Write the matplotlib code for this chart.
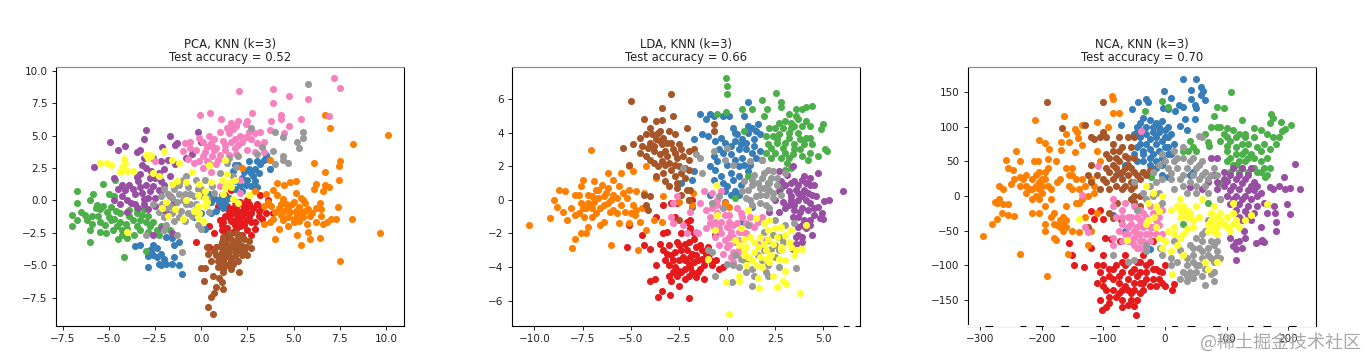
import matplotlib
matplotlib.use("Agg")
import matplotlib.pyplot as plt

# ===========================
# POINTS
# ===========================
pca_red = [(-0.3,-3.2),(0.4,-3.6),(0.7,-2.5),(0.4,-2.0),(1,-1.5),(1.1,-2.3),(1.3,-1.2),(1.5,-0.8),(1.6,-1.6),(1.7,-2.4),(1.9,-0.4),(2.0,-1.2),(2.1,-2.0),(2.3,-0.7),(2.4,-1.5),(2.5,-2.3),(2.6,-0.3),(2.7,-1.0),(2.9,-1.7),(3.0,-0.3),(3.2,0.4),(3.3,-0.5),(3.5,-1.0),(3.6,0),(3.9,-1.0),(1.2,-3),(1.5,-2.8),(2.7,-2.7),(2.5,0.0),(1.8,-0.1),(1.3,0.4),(1.6,0.8),(0.9,-0.4),(1.1,-1.9),(1.8,-1.9),(2.2,-2.7),(3.1,-1.2),(1.4,-0.4),
           (1.2,-1.7),(1.4,-2.1),(1.5,-1.3),(1.7,-1.0),(1.8,-1.5),(2.0,-0.8),(2.1,-1.6),(2.2,-0.3),(2.2,-1.1),(2.4,-0.9),(2.5,-0.5),(2.6,-1.3),(2.7,-1.7),(2.8,-0.6),(1.9,-2.2),(1.4,-2.6),(2.3,-1.9),(2.9,-2.2),(3.3,-1.4),(3.1,-0.8),(2.1,-0.1),(1.7,-0.6)]
pca_blue = [(-3.6,-3.5),(-3.3,-3.4),(-2.6,-3.4),(-2.8,-3.8),(-2.4,-3.7),(-2.9,-4.3),(-2.6,-4.2),(-2.2,-4.1),(-2.0,-4.5),(-2.3,-4.9),(-2.9,-5.1),(-2.2,-5),(-1.9,-4.9),(-1.6,-4.9),(-1.5,-3.4),(-1.9,-2.8),(-1.6,-2.9),(-1.2,-3.2),(-1.5,-4.4),(-1.2,-5.0),(-1.05,-5.7),(1.8,2.7),(2.6,3),(3.5,3.5),(3.6,3.2),(2.9,2.4),(3.2,2.8),(2.7,2.1),(2.5,1.6),(2.4,1.2),(2.9,1.5),(3.0,1.0),(2.1,1.2),(1.8,0.9),(2.2,0.7),(1.5,0.2),(1.1,0.4),(0.9,0.0),(0.5,-0.1),(0.4,0.5),(1.3,-0.2),(1.2,-0.6),(0.8,-0.8),(0.5,-1),(2.0,2.7),(1.7,2.3),(3.7,2.4),(0,-1.0),(-0.4,-1.3),(0.2,-2.2),
            (2.2,1.7),(2.6,2.4),(2.3,2.2),(2.8,1.9),(3.1,2.1),(2.7,1.1),(1.9,1.5),(1.0,-0.3),(1.1,0.1),(0.7,0.2),(-2.7,-3.9),(-2.4,-4.4),(3.4,3.1),(3.0,3.0)]
pca_green = [(-7.0,-2.0),(-6.97,-1.1),(-6.7,0.7),(-6.7,-0.2),(-6.7,-1.5),(-6.5,-0.9),(-6.0,-3.2),(-6.0,-2.3),(-5.85,0.5),(-6,0),(-5.65,-0.35),(-5.5,-1.7),(-5.5,-2.4),(-5.15,-2.5),(-5.3,1.25),(-5,0.5),(-5,-1.25),(-4.65,1.6),(-4.9,-0.5),(-4.55,-2),(-4.5,-3),(-4.2,-4.4),(-4.3,-2.3),(-4.4,-1),(-4.05,-1.8),(-3.5,-1),(-3.9,-0.75),(-3.3,-1.5),(-2.8,-2),(-2.4,-2.3),(-3.65,-2.7),(-3,-3.9),(-2.2,-2),(-1.7,-2.3),(-6.2,-1.5),(-5.9,-1.8),(-5.5,-0.7),(-5.1,-0.9),(-4.7,0.3),(-4.7,-1.4),(-3.1,-0.7),(-3.5,-2),(-2.9,-1.2),(-4,-2.9),
             (-6.3,-1.1),(-5.9,-1.2),(-5.7,-0.6),(-5.3,-0.4),(-5.6,-1.2),(-4.9,-1.5),(-4.6,-0.8),(-4.4,-1.7),(-4.3,-2.7),(-4.0,-2.2),(-3.7,-1.5),(-3.2,-1.1),(-3.0,-1.7),(-2.6,-1.7),(-3.3,-2.3),(-2.9,-2.4),(-4.8,-2.3),(-3.9,-1.2),(-3.5,-0.7),(-5.2,-1.9),(-2.3,-2.7)]
pca_purple = [(-4.96,4.5),(-5.8,2.55),(-4.5,3.9),(-4.1,4.2),(-3.0,5.4),(-3.1,4.7),(-1.7,5.0),(-1.4,4.25),(-2.1,4.1),(-3.5,3.75),(-3.3,3.9),(-0.2,5.3),(0,4.5),(-0.85,3.3),(-0.5,3.6),(-1.3,4.4),(-4.7,1.7),(-4.5,0.9),(-4.3,0.3),(-4.4,-0.3),(-3.9,1.2),(-3.6,0.5),(-3.8,-0.2),(-3.3,1),(-3.1,0.1),(-3.3,2),(-3.0,2.5),(-2.8,1.7),(-2.6,1.1),(-2.5,0.2),(-3.4,-0.6),(-2.9,-0.7),(-2.3,2.1),(-2.2,3),(-2.6,3.3),(-1.8,3.1),(-3.1,3.3),(-2,1.2),(-1.7,0.3),(-1.4,2.8),(-1.5,-0.1),(-2.1,-2.1),(-2.6,-2.7),(-1.6,-2.5),(-1.9,-0.9),(-4.0,-0.9),(-4.7,0.0),(-3.4,1.5),(-2.2,0.7),
              (-4.1,0.8),(-4,0),(-3.5,1.8),(-3.7,0.9),(-3.2,0.6),(-3,1.2),(-3.1,-0.3),(-2.8,0.7),(-2.7,2.3),(-2.9,0.2),(-2.5,1.7),(-2.3,0.8),(-2.5,-0.4),(-2.0,2.4),(-2.2,1.5),(-3.2,2.7),(-4.3,1.2),(-3.6,-0.3),(-1.7,1.9)]
pca_orange = [(10.1,5.05),(8.2,4.35),(6.95,5.55),(6.7,6.55),(9.65,-2.55),(7.5,-4.65),(8.15,-1.4),(6.08,2.9),(7.5,3.0),(7.44,2.65),(6.7,2.2),(7.44,1.6),(6.7,1.2),(6.2,1.3),(6.9,1.0),(6.1,0.9),(6.6,0.7),(5.1,1.5),(4.8,1.4),(4.5,1.2),(4.1,1.35),(3.9,0.8),(4.1,0.4),(4.4,0.1),(3.4,-0.4),(3.8,-0.4),(4.2,-0.6),(4.6,-0.3),(5,-0.1),(5.3,-0.5),(5.6,-0.8),(4.8,-0.9),(5,-1.4),(4.4,-1.5),(4.7,-2),(4.2,-2.2),(3.7,-1.7),(3.4,-1.8),(5.3,-1.6),(5.9,-1.2),(6.2,-1.7),(6.6,-1.8),(7,-1.4),(7.3,-1.4),(6.5,-1.2),(5.7,-1.8),(5.8,-2.4),(5.2,-2.7),(5.9,-3.0),(6.4,-2.9),(5.4,-3.4),(4.0,-3.0),(7.4,-0.5),(6.4,-0.2),(6.5,-0.7),(5.4,0.2),(5.1,0.6),(5.5,0),(3.7,3.1),(2.2,2.5),(2.9,0.7),
              (3.6,-0.1),(4.0,-0.9),(4.3,-0.3),(4.5,-0.8),(4.7,-0.6),(4.9,-0.3),(5.1,-0.8),(5.2,-1.1),(5.4,-0.9),(5.6,-0.2),(5.8,-0.7),(6.0,-1.0),(4.3,-1.1),(3.9,-1.4),(4.7,-1.3),(5.5,-1.3),(6.2,-0.6),(6.8,-1.7),(3.5,0.5),(5.0,-1.7)]
pca_yellow = [(-5.5,2.9),(-5.1,2.9),(-4.9,2.7),(-4.2,3.2),(-4.1,2.9),(-4.3,2.6),(-4.4,2.2),(-4,2.3),(-3.7,2.3),(-3.0,3.5),(-2.7,3.4),(-2.9,3.3),(-2.0,3.8),(-1.6,3.1),(-1.2,2.9),(-2.6,2.1),(-2.3,1.9),(-1.3,1.5),(-1.6,1.3),(-0.8,1.4),(-1.9,-0.1),(-2.1,-0.6),(-1.4,-0.7),(-1.8,-1.2),(-1.0,-1.4),(-0.2,0.4),(-0.1,1.3),(0.2,0.7),(-0.4,-0.8),(-0.1,-1),(0.2,-0.4),(0.1,-1.6),(0.5,1.4),(1.1,1.6),(1.3,1.0),(1.2,0.5),(1.7,0.1),(2,-0.2),(2.6,0.4),(-0.5,2.2),(0.4,2.7),(-0.8,0),(-4.0,-2.4),(1.4,2.0),(1.3,3.1),
              (-4.2,2.4),(-0.2,-0.4),(0.3,-0.1),(0.2,0.2),(-0.2,-1.3),(1.5,1.4),(1.8,1.6),(1.6,1.0),(-2.8,3.5)]
pca_brown = [(0.3,-3.6),(0.2,-5.2),(0,-5.2),(0.35,-4.1),(0.5,-4.7),(0.38,-8.25),(0.63,-8.74),(0.52,-7.43),(0.67,-7.17),(0.8,-6.7),(0.13,-6.2),(0.63,-5.83),(0.94,-6.0),(1.12,-6.3),(1.2,-6.86),(2.02,-5.5),(1.2,-5.5),(2.56,-3.1),(1,-3.5),(1.3,-3.2),(1.6,-3),(2,-3.2),(0.8,-4.2),(1.1,-4.0),(1.4,-3.8),(1.8,-3.7),(2.1,-3.8),(2.4,-3.6),(0.9,-4.7),(1.2,-4.6),(1.5,-4.4),(1.8,-4.3),(2.2,-4.2),(2.5,-4.2),(1.0,-5),(1.4,-5),(1.7,-4.9),(1.5,-2.5),(1.9,-2.5),(2.1,-2.7),(1.2,-5.3),(1.2,-2.8),
             (0.8,-3.6),(1.0,-4.2),(1.2,-3.7),(1.3,-4.3),(1.4,-3.4),(1.5,-4.0),(1.6,-3.6),(1.6,-4.7),(1.7,-3.2),(1.9,-4.0),(1.9,-3.4),(2.0,-4.7),(2.2,-3.5),(2.3,-3.9),(1.1,-3.2),(0.9,-5.1),(1.3,-4.9),(1.6,-5.3),(2.3,-3.0),(2.7,-3.7),(2.0,-2.9),(0.7,-3.9)]
pca_pink = [(2.02,8.4),(3.86,8.56),(4.73,8.05),(3.9,7.5),(5.78,7.8),(7.17,9.43),(7.5,8.7),(6.9,6.5),(0.49,6.76),(-0.05,6.55),(1.08,6.3),(2.73,6.76),(2.5,6.15),(3.77,6.15),(4.3,6.6),(4.3,6.3),(5.4,6.3),(4.77,5.7),(4.5,5.2),(3.74,5.4),(1.6,6.0),(2,6.1),(1.7,5.5),(2.1,5.0),(1.5,5.2),(1.8,4.7),(2.2,4.5),(2.6,5.3),(2.9,5.2),(2.7,4.7),(3.2,5.3),(3.4,4.5),(2.5,3.9),(2.9,3.7),(3.4,3.7),(1,5.3),(0.7,4.7),(1.2,4.6),(0.4,5.0),(-0.1,4.8),(-0.6,4.5),(-0.9,4.4),(-1.0,3.8),(-0.3,3.9),(0.3,4.1),(0.8,4.0),(1.3,3.9),(1.8,4.0),(0.1,3.4),(0.6,3.4),(1.0,3.5),(0.4,2.9),(0.8,2.8),(-0.4,2.9),(-0.1,3.0),(0.5,2.2),(-2.5,3.0),(1.9,3.6),(1.0,1.1),(2.1,1.6),(2.1,0.6),
            (0.1,4.5),(0.5,4.4),(0.7,3.9),(0.2,3.7),(0.9,3.1),(0.1,2.5),(0.3,3.0),(1.3,4.3),(1.6,4.5),(2.0,4.3),(1.4,5.6),(1.9,5.7),(2.4,4.9),(-0.6,4.0),(0.6,4.2),(2.4,5.9),(-0.7,3.2),(1.5,3.5),(3.0,4.4)]
pca_gray = [(5.8,9.0),(5.5,5.3),(5.5,4.8),(5.2,4.5),(5.3,4.0),(4.4,4.9),(4.0,5.3),(2.7,5.6),(3.9,3.8),(4.4,3.4),(4.4,3.1),(4.7,2.9),(4,2.8),(3.3,4.1),(3.0,3.6),(2.0,3.4),(1.5,3.3),(1.4,2.9),(1.9,2.6),(-1.06,-4.0),(-3,-2.7),(-1.3,-2.7),(0,-2.2),(-0.2,-1.9),(-2.6,-0.3),(-2.2,0.3),(-2.3,-0.9),(-1.8,0.5),(-1.7,-0.4),(-1.5,0.9),(-1.2,1.2),(-1.3,-0.1),(-1.1,-0.8),(-0.9,0.5),(-0.7,1.0),(-0.6,-0.3),(-0.5,-1.2),(-0.4,0.3),(-0.9,-1.6),(-1.5,-1.6),(-1.9,-1.9),(-0.8,1.9),(-0.3,1.6),(0.0,0.9),(0.3,0.2),(0.6,1.1),(1.0,2.1),(1.7,1.9),(0.4,-0.9),(-2,-2.3),
            (-2.1,-0.3),(-2.0,0.9),(-1.6,0.2),(-1.9,-0.6),(-1.2,0.5),(-1.0,0.0),(-0.8,-0.3),(-0.7,-1),(-0.3,-0.3),(-0.2,0.9),(0.1,0.3),(-1.2,-1.3),(-1.6,-1),(-2.0,-1.3),(-0.6,0.5),(0.2,1.6),(0.7,0.6),(-1.0,1.6),(-0.4,-0.8)]

lda_red = [(-3.6,-5.8),(-3.35,-5.4),(-2.95,-5.65),(-2.5,-5.1),(-1.95,-5.85),(-4,-4.85),(-3.75,-4.7),(-3.7,-3.9),(-3,-4.5),(-2.9,-4.8),(-2.5,-4.2),(-2.5,-3.6),(-3.1,-3.2),(-3,-2.7),(-3.1,-1.9),(-3.3,-2),(-3.7,-1.0),(-2.6,-0.2),(-2.9,-0.2),(-5.2,-2.8),(-4.4,-2.1),(-4.3,-2.7),(-4,-2.9),(-3.3,-0.3),(-2.7,-1),(-2.1,-1.3),(-1.9,-1.7),(-2.4,-2),(-1.7,-2.3),(-2.8,-3.6),(-2.4,-3),(-2,-2.5),(-1.6,-2.8),(-2.7,-4),(-2.2,-3.6),(-1.8,-3.2),(-1.3,-3.0),(-2.4,-4.3),(-1.9,-4),(-1.5,-3.6),(-1.1,-3.2),(-2,-4.5),(-1.6,-4.6),(-1.4,-4.1),(-1.2,-4.7),(-0.9,-3.6),(-0.8,-3.9),(-0.4,-4.1),(-0.2,-4),(-0.55,-3.6),(-1,-2.8),(-0.6,-2.1),(-2,0),(-1.8,0),(-5.1,-1.5),(-0.95,-3.2),(-2.6,-2.5),
           (-3.2,-3.6),(-3,-3.9),(-2.9,-3.3),(-2.7,-3.1),(-2.6,-4.5),(-2.5,-2.7),(-2.3,-3.4),(-2.2,-4.1),(-2.2,-2.6),(-2.1,-3.0),(-2,-3.8),(-1.9,-3.4),(-1.8,-4.3),(-1.7,-3.7),(-1.6,-3.3),(-1.5,-4.3),(-1.4,-2.7),(-1.3,-3.5),(-1.2,-3.9),(-1.7,-2.0),(-2.2,-4.7),(-2.8,-4.3),(-3.3,-3.0),(-3.5,-2.6),(-1.9,-1.2)]
lda_blue = [(-1.4,5.1),(-1.1,4.8),(-0.9,5.1),(-0.7,5),(0.1,5),(1.1,5.8),(0.9,5.0),(-0.2,5.0),(-1.7,3.6),(-1.3,3.9),(-1,3.8),(-0.6,3.5),(-0.4,3),(-0.1,3.4),(0.3,4.3),(0.5,3.9),(0.8,3.6),(1.1,4.0),(1.3,4.3),(1.6,4.5),(1.4,3.6),(0.2,2.7),(0.6,3.0),(1,3),(-0.5,2.3),(-0.9,2.0),(-0.7,2.6),(1.3,2.8),(1.7,2.9),(0,2.1),(0.6,2),(1.2,2.1),(1.8,2.4),(-1.7,1.7),(-1.8,1.2),(-0.7,1.2),(-0.3,1.4),(0,0.8),(0.3,1.2),(0.4,0.5),(0.6,1.4),(-2.4,1.0),(-1.8,-0.4),(-0.1,-0.1),(1.3,-0.4),(0.7,-1.4),(-0.9,0.3),(0.7,0.9),(-0.1,0.5),
            (0.2,3.2),(0.4,2.4),(0.4,3.5),(0.7,3.3),(0.8,2.5),(1,3.4),(1.1,1.7),(0.2,1.6),(0.9,2.1),(1.4,3.2),(1.5,2.5),(-0.2,2.8),(-0.6,1.8),(-0.2,1.0),(0.2,0.3),(0.6,0.3),(-0.3,3.7),(1.1,4.4),(1.5,4.1),(1.7,3.9),(0.4,4.0)]
lda_green = [(-0.05,7.25),(0,6.75),(0,6.3),(-0.05,5.2),(-0.5,5.1),(0.8,5.4),(1.3,5.4),(1.8,5.95),(2.55,6.35),(2.8,5.8),(2.8,5.5),(2.05,5.4),(1.9,5.0),(3.2,5.1),(3.6,5.4),(3.9,5.4),(4.1,5.5),(4.4,5.6),(2.7,4.6),(3,4.7),(3.3,4.6),(3.7,4.8),(4.1,4.7),(4.3,4.4),(5,4.5),(4.9,4.2),(2.2,4.3),(2.5,4.3),(2,3.8),(2.7,3.9),(3.2,4),(3.7,4),(4.3,3.7),(2.1,3.3),(2.6,3.4),(3,3.4),(3.5,3.3),(4,3.3),(4.4,3.3),(2,2.8),(2.5,2.8),(3,2.8),(3.4,2.7),(3.9,2.6),(4.3,2.8),(4.7,2.6),(5.1,3),(5.2,2.9),(3.1,2.2),(3.3,1.9),(3,1.8),(1.1,1.4),(2.1,1.0),(2.8,0.7),(0.9,4.1),(0.4,0.1),
             (2.6,3.6),(2.9,3.1),(3.2,3.7),(3.3,4.3),(3.5,3.0),(3.5,4.4),(3.8,3.6),(3.9,4.4),(3.8,3),(4.1,3.7),(4.2,2.4),(2.3,3.1),(2.4,3.8),(2.8,2.5),(2.9,4.3),(3.6,5.0),(3.2,2.5),(2.3,2.5)]
lda_purple = [(6,0.5),(5.3,0),(5.05,-0.05),(4.7,-0.4),(4.95,-0.8),(4.85,-1.1),(5,-1.15),(4.5,-0.9),(4.7,1.6),(4.0,1.4),(4.3,1.3),(3.4,2.0),(3.1,1.5),(2.7,1.7),(2.8,1.1),(2.7,0.5),(3.3,1.0),(3.7,0.9),(4.1,1.0),(4.5,0.9),(3.2,0.5),(3.6,0.6),(4.0,0.6),(4.4,0.3),(2.9,-0.1),(3.3,0),(3.7,0),(4.1,0),(3,-0.5),(3.5,-0.6),(3.9,-0.5),(4.2,-0.6),(2.7,-0.7),(2.2,-0.7),(3.7,-1),(4,-1.2),(4.3,-1.2),(4.3,-1.5),(3.7,-1.6),(4.1,-1.7),(3.6,-2.2),(3.9,-2.2),(3.6,-2.6),(3.4,-2.9),(3.9,-2.5),(3.7,-2.1),(4.4,-2.1),
              (3,0.9),(3.3,0.2),(3.5,1.1),(3.5,-0.3),(3.7,0.4),(3.8,-0.7),(3.9,1.2),(3.9,0.2),(4.2,0.4),(4.3,0.9),(4.3,-0.2),(4.6,0.2),(4.5,-0.5),(3.2,-0.3),(2.5,0.0),(3.4,-1),(3.9,-1.5)]
lda_orange = [(-10.3,-1.5),(-9.2,-1.1),(-9,0),(-8.8,-0.4),(-8.7,0.6),(-8.4,0.55),(-8.5,-0.7),(-8.3,-1.2),(-8.05,-2.85),(-7.9,-2.35),(-7.6,-2),(-7.3,-2),(-7.05,2.95),(-8.1,-0.5),(-7.9,0.3),(-7.7,-0.8),(-7.6,-0.2),(-7.5,1.2),(-7.6,0.8),(-7.3,-0.5),(-7.2,0.3),(-7,-1.0),(-6.9,-0.1),(-6.9,1.1),(-6.7,0.6),(-6.6,-1.5),(-6.4,-1.3),(-6.6,-0.5),(-6.4,0.2),(-6.2,0.7),(-6.2,-0.2),(-6.2,1.6),(-6,-2.7),(-5.9,1.2),(-5.9,0.3),(-5.9,-0.6),(-5.6,-1.4),(-5.6,0.8),(-5.5,-0.3),(-5.5,1.6),(-5.1,-1.4),(-5.2,0.1),(-5,-0.8),(-4.9,1.7),(-4.7,0.5),(-4.8,-0.9),(-5.1,2.0),(-4.5,-1.3),(-4.4,-0.5),(-4.3,0.4),(-4.6,-3),(-4.2,-1.8),(-3.8,-1.2),(-3.4,-1.3),(-3.3,0.2),(-2.5,-0.1),(-1.75,0.4),(-1.8,-0.3),(-4.2,2.0),(-3.7,1.3),(-0.1,-0.2),(0.1,-0.4),
              (-7.9,-0.9),(-7.7,0.3),(-7.5,-0.5),(-7.4,-1.0),(-7.2,-0.2),(-7,0.2),(-7,-0.5),(-6.8,-0.8),(-6.7,0.1),(-6.5,0.9),(-6.4,-0.3),(-6.3,0.4),(-6.1,-0.7),(-6,0),(-5.7,0.1),(-5.7,-0.8),(-5.4,0.4),(-5.3,-0.7),(-5.1,0.6),(-4.9,-0.3),(-4.7,-0.6),(-7.2,-1.6),(-6.8,0.6)]
lda_yellow = [(0.1,-6.8),(3.8,-5.55),(3.05,-5),(2.9,-4.8),(2.6,-5.2),(1.65,-5.25),(1.6,-4.65),(0.6,-4.5),(0.6,-4.8),(-0.05,-4.9),(2.4,-4.5),(3,-4.2),(1,-3.9),(1.3,-3.6),(1.7,-3.4),(2,-3.5),(2.3,-3.3),(2.7,-3.5),(3.0,-3.6),(3.5,-3.3),(3.6,-3),(3.9,-2.9),(0.6,-2.7),(0.9,-2.3),(0.7,-1.7),(1,-2.8),(1.4,-2.5),(1.7,-2.2),(2.1,-2.3),(2.5,-1.7),(2.8,-1.6),(3,-2.1),(3.2,-2.5),(3.3,-1.8),(2.2,-1.2),(1.9,-1.4),(1.1,-0.6),(1.5,-1.1),(-0.6,-1.8),(-1,-3.5),(-0.5,-0.9),(4.1,-1.5),(0.9,-3.3),(0.4,-2.4),(-0.55,0.9),(2,-3),
              (1.4,-3.1),(1.6,-2.8),(1.1,-3.4),(1.2,-2.2),(0.9,-3.0),(2.4,-2.6),(2.6,-2.2),(2.8,-3.0),(2.2,-3.7),(1.5,-3.9),(1.9,-2.6),(2.8,-2.8),(3.3,-2.8),(1.8,-4),(2.1,-1.8)]
lda_brown = [(-5,5.9),(-2.9,6.3),(-3.4,5.45),(-4.3,4.8),(-3.7,4.7),(-3.4,4.75),(-2.8,5),(-2.1,4.25),(-0.7,4.5),(-0.7,4.1),(-4.5,3.7),(-5.4,3.1),(-4.9,3.3),(-4.5,2.8),(-5.1,2.1),(-4.2,3.9),(-4,4.3),(-3.5,4.1),(-3,4.1),(-2.7,3.9),(-4,3.4),(-3.7,3.6),(-3.4,3.3),(-2.9,3.4),(-2.5,3.3),(-4.2,2.6),(-3.8,2.9),(-3.5,2.7),(-3.1,2.6),(-2.7,2.8),(-2.3,2.6),(-2,2.9),(-1.7,3),(-3.6,2),(-3.2,2.1),(-2.9,1.8),(-2.5,2),(-2.2,1.9),(-3.7,1.4),(-3.2,1.1),(-2.7,1.4),(-2.2,1.3),(-2,1.8),(-3,0.8),(-2.6,0.7),(-2.4,0.3),(-2.1,0.6),(-2,0.0),(-1.9,0.6),(-4,0.2),(-4.2,-0.3),(-4.3,0.3),(-2.5,-1.2),(-4.1,-0.6),
             (-4.1,3.1),(-3.9,3.9),(-3.8,3.2),(-3.6,4),(-3.5,3.5),(-3.3,3.7),(-3.2,2.9),(-3.1,3.4),(-2.8,3),(-2.6,2.5),(-2.4,3.0),(-3.4,2.3),(-3,2.2),(-2.7,2.1),(-4.4,3.2),(-4,2.4),(-3.3,1.6),(-2.4,1.6),(-2,2.4),(-2.6,1.0),(-3.8,2.2)]
lda_pink = [(-2.6,0.2),(-2.8,-0.2),(-2.9,-1),(-2.8,-1.4),(-1.9,-0.7),(-1.6,-1.9),(-2.3,-1.5),(-2.1,-2),(-1.5,-2),(-1.2,0.5),(-1.4,-0.2),(-1.1,-0.6),(-0.8,0.4),(-0.5,0.0),(-0.3,0.5),(-0.9,-1),(-1.1,-1.7),(-0.7,-1.6),(-0.5,-0.8),(-0.3,-1.3),(-0.6,-2.2),(-0.3,-2),(0.1,-0.9),(0.3,-1.5),(0.5,-0.5),(0.8,-1),(0.1,-2.2),(0.4,-2.5),(0,-2.8),(0.3,-3.1),(0.3,-3.7),(0.6,-3.0),(0.8,-1.9),(1,-2),(1.4,-1.6),(1.8,-1),(1.2,-1),(-0.4,-2.7),(-0.2,-3.2),(2,-2.4),(1.6,-2.6),(0.5,-3.2),
            (-0.5,-0.3),(-0.6,-1.3),(-0.4,-1.7),(-0.1,-0.9),(0,-1.6),(0.1,-1.3),(0.2,-1.9),(0.3,-2.2),(0.1,-2.7),(0.2,-3.4),(0.5,-1.4),(0.6,-1.9),(0.7,-0.8),(0.6,-2.4),(-0.8,-0.5),(-0.9,-1.4),(-0.1,-2.4),(1.2,-1.5),(1.6,-1.3),(1.0,-1.4)]
lda_gray = [(-1.6,2.7),(-1.4,2.5),(-0.7,2.9),(-2.3,1.9),(-1.3,1.6),(0,3.1),(-0.1,2.4),(0.3,2.1),(1.2,2.3),(1.8,2.4),(2.1,1.8),(2.4,1.7),(3,1.6),(0.9,1.1),(1.4,1.5),(1.8,1.3),(0.8,0.5),(1.3,0.9),(1.7,0.7),(2.2,1),(2.6,0.9),(1,0.1),(1.5,0.2),(2,0.3),(2.4,0.4),(2.8,0.3),(1.3,-0.3),(2,-0.3),(-0.8,-0.2),(-0.4,0.2),(-0.2,-0.5),(1.1,-1.5),(2.5,-1.2),(3,-1.5),(3.5,-1.4),(1.9,-1.9),(2.4,-2.1),(2.9,-2.5),(2.3,-2.9),(1.9,-3),(1.2,-3.5),(1.8,-3.6),(2.5,-3.4),(0.4,-3.3),(0.9,-3.6),(0.3,-3.9),(0.6,-4),(1.3,-4.1),(2.7,-4.0),(3.6,-4.05),(2,-4.3),(2.1,-4.5),(1.4,-4.5),(1.3,-5.1),(0.25,-4.9),(-0.65,-4.5),(0,-3.8),(-0.8,-3.1),(-1,-3.0),
            (1.1,0.6),(1.3,1.2),(1.6,1.0),(1.7,0.3),(1.9,1.6),(1.9,0.7),(2.2,0.6),(2.3,1.3),(2.4,0.1),(2.6,1.3),(1.2,0),(1.7,-0.2),(2.2,-0.5),(2.7,-3.0),(2.5,-2.7),(2.1,-2.4),(2.7,-2.2),(1.6,-3.3),(2.1,-3.9),(1.0,-4.3),(0.7,-3.5)]

nca_red = [(-102,-165),(-95,-160),(-90,-155),(-47,-171),(-70,-160),(-60,-157),(-50,-158),(-110,-125),(-110,-100),(-105,-110),(-100,-100),(-90,-105),(-100,-120),(-95,-135),(-85,-120),(-80,-100),(-85,-135),(-70,-110),(-75,-125),(-70,-150),(-60,-95),(-55,-110),(-65,-130),(-55,-140),(-40,-140),(-50,-125),(-40,-110),(-35,-125),(-45,-95),(-25,-95),(-30,-110),(-25,-130),(-20,-120),(-15,-105),(-10,-120),(-5,-110),(0,-100),(-5,-125),(0,-130),(12,-135),(15,-127),(-105,-150),(-80,-145),(-35,-85),(-65,-85),(-155,-68),(-147,-100),(-132,-103),(-120,-75),(-150,-85),(-105,-20),(-100,-33),(-98,-60),(-88,-62),(-73,-65),(-100,-85),(-120,-22),(-115,-33),(-20,-65),
           (-100,-130),(-90,-115),(-85,-105),(-75,-115),(-70,-135),(-65,-100),(-60,-120),(-60,-135),(-50,-105),(-50,-135),(-45,-115),(-40,-125),(-35,-135),(-30,-100),(-30,-120),(-20,-105),(-15,-130),(-55,-150),(-70,-95),(-90,-145),(-45,-150),(-40,-95),(-10,-108),(-75,-140)]
nca_blue = [(29,168),(51,169),(43,153),(59,157),(62,151),(-2,152),(10,141),(42,140),(59,145),(65,139),(-43,136),(-31,140),(-28,136),(-53,125),(22,131),(30,128),(49,131),(51,127),(-3,127),(5,126),(17,122),(32,111),(49,111),(-71,102),(24,101),(35,95),(-45,100),(-50,90),(-40,105),(-35,112),(-25,110),(-15,105),(-5,108),(5,100),(10,90),(-40,85),(-30,90),(-20,92),(-10,92),(0,85),(-45,70),(-30,75),(-15,75),(0,70),(15,75),(-50,60),(-35,60),(-20,60),(-5,55),(10,60),(-45,50),(-25,45),(-15,40),(-20,35),(-5,30),(5,28),(40,30),(45,35),(-65,45),(-65,-51),(-25,-76),(-73,33),(-85,-28),
            (-40,95),(-30,100),(-25,82),(-15,85),(-5,80),(5,85),(-35,65),(-25,55),(-10,65),(5,60),(-40,75),(-20,100),(-10,100),(0,95),(-15,50),(-35,50),(-5,45),(5,70),(-25,68),(-45,92)]
nca_green = [(107,150),(-5,137),(5,128),(-33,122),(85,128),(95,127),(80,115),(125,110),(175,113),(172,118),(170,105),(188,107),(205,103),(195,97),(190,93),(75,100),(85,100),(90,100),(100,98),(110,95),(120,90),(130,90),(145,98),(155,95),(165,90),(175,85),(65,90),(90,80),(105,80),(125,75),(145,85),(160,75),(180,75),(70,78),(40,80),(45,70),(72,72),(100,65),(115,60),(130,65),(150,70),(170,68),(100,50),(115,45),(130,50),(145,55),(155,50),(160,40),(105,35),(120,35),(135,35),(150,35),(165,30),(163,27),(30,65),(37,65),(50,65),(-20,35),(-35,35),(-22,28),(97,20),(70,-10),(30,-40),(87,19),
             (100,85),(115,85),(115,70),(125,60),(135,75),(105,55),(120,50),(135,55),(145,40),(125,40),(110,45),(100,72),(155,65),(165,55),(130,85),(95,90),(140,60),(155,35),(170,40),(185,85)]
nca_purple = [(211,46),(219,10),(193,27),(185,15),(170,13),(176,10),(195,10),(203,12),(177,-15),(165,-12),(198,-12),(203,-26),(178,-25),(180,-38),(180,-50),(130,-60),(125,-75),(120,-65),(115,-67),(105,-60),(110,-72),(115,-76),(115,-92),(147,-68),(155,-65),(158,-63),(160,-67),(155,-45),(80,30),(95,35),(110,40),(125,40),(140,40),(70,20),(85,20),(100,22),(115,25),(130,25),(145,20),(150,15),(85,10),(105,8),(120,10),(135,8),(150,0),(90,-5),(110,-5),(125,-5),(140,-5),(160,-10),(115,-20),(130,-22),(145,-25),(120,-30),(140,-35),(128,-50),(165,-25),(40,13),(60,10),(75,55),(85,55),
              (105,30),(120,30),(135,30),(140,15),(95,15),(110,15),(125,18),(130,0),(115,0),(100,0),(145,8),(120,-12),(135,-15),(150,-15),(105,-12),(125,-35),(155,5),(95,25),(135,-28)]
nca_orange = [(-295,-57),(-235,-83),(-192,-116),(-280,-40),(-273,-33),(-265,-25),(-255,-28),(-245,-29),(-275,-8),(-262,-12),(-272,-10),(-270,15),(-262,10),(-250,17),(-270,-5),(-255,-12),(-245,25),(-241,65),(-258,52),(-254,41),(-235,50),(-246,37),(-235,27),(-211,109),(-164,115),(-204,81),(-195,77),(-188,68),(-213,50),(-206,50),(-189,54),(-176,51),(-169,78),(-169,67),(-160,90),(-155,78),(-146,96),(-142,92),(-141,83),(-146,63),(-135,73),(-134,102),(-110,107),(-92,100),(-86,144),(-85,140),(-85,119),(-75,120),(-235,15),(-225,30),(-220,10),(-215,-5),(-215,25),(-210,15),(-205,35),(-200,5),(-195,-15),(-195,25),(-190,40),(-185,10),(-180,-25),(-175,20),(-165,-30),(-160,-45),(-170,-45),(-155,15),(-150,30),(-160,40),(-150,-50),(-140,-52),(-120,-50),(-125,-70),(-110,-25),(-130,-30),(-135,-5),(-140,10),(-125,0),(-115,5),(-135,25),(-120,25),(-115,15),(-205,-25),(-215,-25),(-195,-40),(-195,-50),(-185,-30),(-180,-60),(-177,-63),(-157,-83),(-175,-42),(-145,-10),(-150,10),(-105,50),(-110,65),(-140,-10),(-160,-15),
              (-225,15),(-215,10),(-210,30),(-205,10),(-205,20),(-200,25),(-200,15),(-195,35),(-190,15),(-210,0),(-205,-5),(-225,5),(-230,25),(-185,-5),(-180,-40),(-170,-35),(-165,-40),(-160,-35),(-145,25),(-155,30),(-150,40),(-165,-50),(-130,15),(-170,25)]
nca_yellow = [(-140,-33),(-62,-63),(-27,-35),(-18,-30),(10,-20),(25,-5),(30,-15),(30,-28),(25,-20),(35,-30),(40,-25),(50,-15),(60,-5),(80,-15),(90,-25),(100,-30),(110,-25),(115,-35),(120,-45),(105,-50),(85,-30),(75,-35),(80,-50),(85,-55),(70,-50),(55,-30),(45,-45),(35,-48),(15,-45),(5,-50),(25,-60),(30,-55),(-10,-60),(0,-65),(-5,-75),(10,-80),(30,-85),(65,-95),(85,-95),(70,-105),(12,-112),(-15,-45),(-30,-40),(-10,-22),(-20,5),(-5,0),(-30,15),(-15,-15),(130,-35),(165,-12),(140,-28),(110,-10),(-27,-10),
              (20,-15),(30,-20),(35,-20),(40,-30),(25,-30),(45,-35),(75,-25),(80,-40),(85,-40),(90,-35),(85,-45),(95,-40),(70,-40),(75,-45),(100,-45),(110,-40),(15,-55),(20,-70)]
nca_brown = [(-191,136),(-100,135),(-167,98),(-130,102),(-120,85),(-115,82),(-105,85),(-100,92),(-95,85),(-85,75),(-75,85),(-60,85),(-50,85),(-85,65),(-70,70),(-55,70),(-95,60),(-80,55),(-65,58),(-50,55),(-120,45),(-125,30),(-120,20),(-110,30),(-95,40),(-80,40),(-65,40),(-50,35),(-35,35),(-100,25),(-85,25),(-70,25),(-55,20),(-40,25),(-30,30),(-105,10),(-90,10),(-70,10),(-55,10),(-50,0),(-40,0),(-50,-8),(-55,-5),(-78,-10),(-125,-45),(-90,-25),(-40,-15),(-72,-35),(-85,-32),(-25,38),
             (-90,55),(-85,45),(-80,30),(-75,50),(-70,35),(-60,45),(-60,30),(-55,40),(-45,30),(-90,35),(-80,15),(-65,15),(-95,20),(-60,55),(-75,65),(-50,15)]
nca_pink = [(-39,93),(-108,43),(-135,2),(-130,-45),(-125,-52),(-85,-5),(-85,-15),(-70,-20),(-80,-30),(-50,-15),(-40,-20),(-25,-15),(-10,-15),(-5,-20),(-60,-30),(-45,-30),(-30,-30),(-15,-35),(-70,-40),(-55,-40),(-40,-42),(-25,-45),(-10,-42),(-60,-55),(-45,-55),(-30,-55),(-15,-55),(-5,-55),(-55,-65),(-40,-65),(-25,-65),(-85,-60),(-85,-70),(-70,-65),(-45,-75),(-30,-75),(-10,-30),(-75,-50),(-60,-65),
            (-55,-30),(-50,-50),(-45,-45),(-40,-35),(-40,-55),(-35,-45),(-35,-65),(-30,-40),(-50,-60),(-50,-70),(-25,-55),(-20,-45),(-60,-45),(-65,-55),(-20,-25),(-70,-30),(-45,-20),(-35,-25),(-65,-10),(-40,-75)]
nca_gray = [(55,87),(60,85),(30,70),(15,65),(-5,60),(15,50),(30,55),(45,55),(60,50),(-10,45),(5,40),(20,40),(35,40),(50,40),(65,35),(80,40),(-20,35),(-5,25),(10,25),(25,25),(40,20),(55,25),(70,25),(85,30),(15,10),(35,5),(50,5),(70,5),(-25,15),(-35,5),(-20,0),(-10,5),(-5,-10),(-30,-5),(-50,20),(-45,-20),(90,-5),(70,-35),(65,-50),(60,-55),(50,-60),(75,-65),(85,-65),(40,-70),(55,-75),(70,-75),(85,-80),(30,-85),(45,-85),(60,-90),(75,-90),(90,-90),(10,-90),(20,-95),(35,-100),(50,-100),(65,-105),(80,-95),(10,-100),(30,-110),(85,-88),(60,-115),(75,-113),(25,-120),(35,-122),(45,-118),(65,-128),(80,-122),(-8,-75),(-85,-85),(-30,-80),(-60,-95),(-50,-93),(-5,-85),(-30,-70),(80,-110),(15,-65),(25,-78),
            (20,55),(40,50),(55,45),(30,30),(45,30),(60,30),(75,30),(0,50),(10,33),(65,15),(50,15),(30,15),(-15,20),(45,-75),(60,-65),(55,-100),(45,-95),(70,-85),(35,-90),(40,-110),(60,-80),(35,-115),(50,-110),(80,-70)]

titles = ["PCA, KNN (k=3)\nTest accuracy = 0.52",
          "LDA, KNN (k=3)\nTest accuracy = 0.66",
          "NCA, KNN (k=3)\nTest accuracy = 0.70"]
colors = ["#e41a1c", "#377eb8", "#4daf4a", "#984ea3", "#ff7f00",
          "#ffff33", "#a65628", "#f781bf", "#999999"]

panels = [
    [pca_red, pca_blue, pca_green, pca_purple, pca_orange, pca_yellow, pca_brown, pca_pink, pca_gray],
    [lda_red, lda_blue, lda_green, lda_purple, lda_orange, lda_yellow, lda_brown, lda_pink, lda_gray],
    [nca_red, nca_blue, nca_green, nca_purple, nca_orange, nca_yellow, nca_brown, nca_pink, nca_gray],
]
limits = [((-7.86, 10.97), (-9.68, 10.28)),
          ((-11.16, 6.9), (-7.5, 7.9)),
          ((-319.5, 245), (-187.5, 186))]
xticks = [[-7.5, -5, -2.5, 0, 2.5, 5, 7.5, 10],
          [-10, -7.5, -5, -2.5, 0, 2.5, 5],
          [-300, -200, -100, 0, 100, 200]]
# yellow goes on last so it sits over the gray
order = [0, 1, 2, 3, 4, 6, 7, 8, 5]

W, H = 1365, 359
fig = plt.figure(figsize=(W / 100, H / 100), dpi=100)

lefts = [56, 512, 968]
top, bottom = 67, 326
width = 348

for i in range(3):
    ax = fig.add_axes([lefts[i] / W, 1 - bottom / H, width / W, (bottom - top) / H])
    for k in order:
        pts = panels[i][k]
        ax.scatter([p[0] for p in pts], [p[1] for p in pts], s=26, color=colors[k], linewidths=0)
    ax.set_xlim(limits[i][0])
    ax.set_ylim(limits[i][1])
    ax.set_xticks(xticks[i])
    ax.tick_params(labelsize=7.5, length=3, width=0.7, pad=3, colors="#222222")
    ax.set_title(titles[i], fontsize=8.4, pad=4, color="#222222", linespacing=1.05)
    for s in ax.spines.values():
        s.set_linewidth(0.8)
    ax.spines["top"].set_color("#888888")

# the watermark wipes out part of the bottom edge in the source image
fig.add_artist(plt.Line2D([968 / W, 1316 / W], [1 - 326 / H] * 2, color="white", lw=1.4,
                          linestyle=(0, (9, 4, 14, 3, 5, 4))))
fig.add_artist(plt.Line2D([838 / W, 860 / W], [1 - 326 / H] * 2, color="white", lw=1.4,
                          linestyle=(0, (3, 3))))

fig.text(1200 / W, 1 - 342 / H, "@稀土掘金技术社区", fontsize=13, color="#a8a8a8", va="center",
         family=["Noto Sans CJK SC", "DejaVu Sans"])

plt.savefig("out.png", dpi=100)
